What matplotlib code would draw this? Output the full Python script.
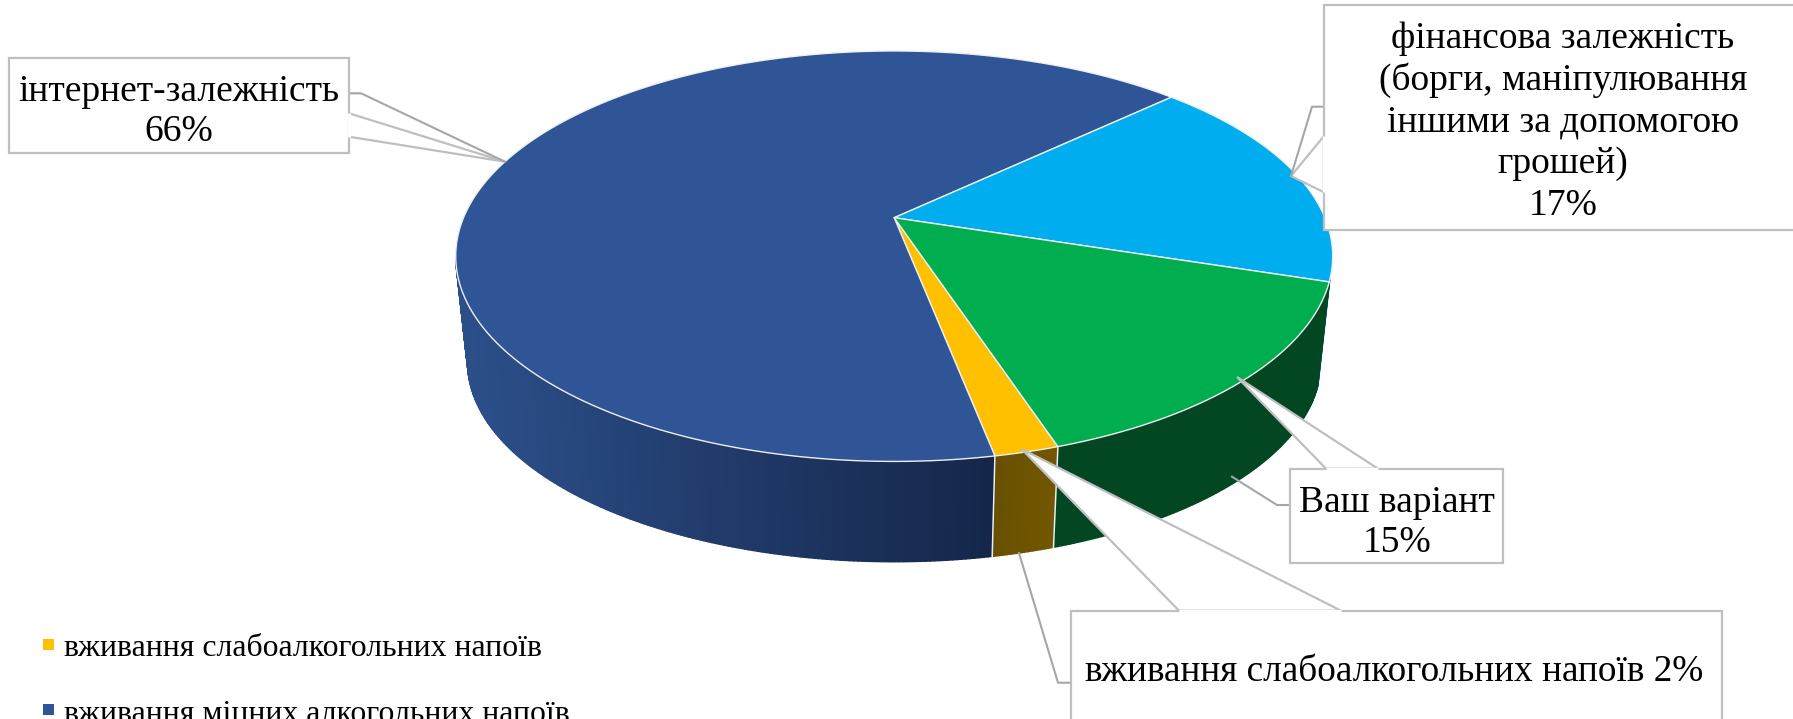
import numpy as np
import matplotlib
matplotlib.use("Agg")
import matplotlib.pyplot as plt
from matplotlib.patches import Polygon, Rectangle
from matplotlib.colors import to_rgb

categories = ["вживання слабоалкогольних напоїв", "інтернет-залежність",
              "фінансова залежність", "Ваш варіант"]
legend_names = ["вживання слабоалкогольних напоїв", "вживання міцних алкогольних напоїв"]
values = [2, 66, 17, 15]
top_colors = ["#FFC000", "#2F5597", "#00AEEF", "#00AE4F"]
side_start = ["#735700", "#2C4F8A", "#026E9A", "#024722"]
side_end = ["#665000", "#15264A", "#026E9A", "#024722"]

W, H = 1793, 719
plt.rcParams["font.family"] = ["Liberation Serif", "DejaVu Serif"]
fig = plt.figure(figsize=(W / 100, H / 100), dpi=100)
ax = fig.add_axes([0, 0, 1, 1])
ax.set_xlim(0, W)
ax.set_ylim(H, 0)
ax.axis("off")

# Perspective projection of the unit disc onto the slanted pie
CX, TOP_Y, RX, RY, K = 894.2, 217.7, 430.7, 198.0, 0.1876
BASE_Y, BASE_SCALE = 324.6, 0.973
START = 161.8
GRID = "#BFBFBF"
LEAD = "#A6A6A6"
RIM = "#EDEFF3"


def project(deg, base=False):
    t = np.radians(deg)
    x, y = np.sin(t), np.cos(t)
    s = BASE_SCALE if base else 1.0
    cy = BASE_Y if base else TOP_Y
    return CX + s * RX * x / (1 + K * y), cy - s * RY * y / (1 + K * y)


# Turn the shares into wedge boundaries, clockwise from the start angle
shares = np.array(values, dtype=float) / sum(values) * 360
bounds = START + np.concatenate([[0], np.cumsum(shares)])

# Outer wall, with shading along the rim
for i in range(len(values)):
    a0, a1 = bounds[i], bounds[i + 1]
    steps = np.arange(a0, a1, 0.5).tolist() + [a1]
    c0, c1 = np.array(to_rgb(side_start[i])), np.array(to_rgb(side_end[i]))
    for p, q in zip(steps[:-1], steps[1:]):
        wrapped = ((p + q) / 2) % 360
        if not 107 <= wrapped <= 259:
            continue
        xa, ya = project(p)
        xb, yb = project(q)
        xc, yc = project(q, True)
        xd, yd = project(p, True)
        mid = (xa + xb) / 2
        frac = np.clip((mid - 460) / 530, 0, 1) if i == 1 else (p - a0) / max(a1 - a0, 1)
        col = c0 + (c1 - c0) * frac
        ax.add_patch(Polygon([(xa, ya), (xb, yb), (xc, yc), (xd, yd)], closed=True,
                             facecolor=col, edgecolor=col, lw=1.0, zorder=2))

# Vertical seams between slices on the wall
for b in bounds[:2]:
    xa, ya = project(b)
    xb, yb = project(b, True)
    ax.plot([xa, xb], [ya, yb], color=RIM, lw=1.1, zorder=3)

# Upper face
for i in range(len(values)):
    angs = np.linspace(bounds[i], bounds[i + 1], 200)
    xs, ys = project(angs)
    pts = [(CX, TOP_Y)] + list(zip(xs, ys))
    ax.add_patch(Polygon(pts, closed=True, facecolor=top_colors[i],
                         edgecolor=RIM, lw=1.0, joinstyle="round", zorder=4))


def callout(box, text_xy, text, leader, wedge, fontsize=27, linespacing=1.22):
    x0, y0, x1, y1 = box
    ax.add_patch(Polygon(wedge, closed=True, facecolor="white", edgecolor=GRID,
                         lw=1.6, zorder=5))
    ax.plot(*zip(*leader), color=LEAD, lw=1.5, zorder=5)
    ax.add_patch(Rectangle((x0, y0), x1 - x0, y1 - y0, facecolor="white",
                           edgecolor=GRID, lw=1.6, zorder=6))
    # The pointer opens into the box, so its mouth carries no border
    ax.plot([wedge[0][0], wedge[2][0]], [wedge[0][1], wedge[2][1]], color="white",
            lw=2.4, solid_capstyle="butt", zorder=6.5)
    ax.text(text_xy[0], text_xy[1], text, ha="center", va="center", fontsize=fontsize,
            linespacing=linespacing, color="black", zorder=7)


callout((9, 57.7, 349, 152.7), (178.5, 111.5), f"{categories[1]}\n{values[1]}%",
        [(349, 93.3), (361, 93.3), (505, 161.7)],
        [(349, 113.3), (505, 161.7), (349, 136.7)])
callout((1324, 5, 1802, 230), (1563, 122),
        f"{categories[2]}\n(борги, маніпулювання\nіншими за допомогою\nгрошей)\n{values[2]}%",
        [(1324, 106.7), (1312, 106.7), (1291, 176)],
        [(1324, 136), (1291, 176), (1324, 192.3)], linespacing=1.26)
callout((1290, 468.7, 1503, 563.3), (1397, 523), f"{categories[3]}\n{values[3]}%",
        [(1290, 505), (1277, 505), (1232, 476.7)],
        [(1326, 468.7), (1237, 377), (1378, 468.7)])
callout((1070.5, 610.7, 1722, 760), (1394.5, 672), f"{categories[0]} {values[0]}%",
        [(1070.5, 682.7), (1058, 682.7), (1019, 553)],
        [(1179, 610.7), (1021.6, 449), (1341, 610.7)], fontsize=26.8)

# Legend, whose last row runs off the lower edge
for name, color, y in zip(legend_names, top_colors[:2], [644, 709]):
    ax.add_patch(Rectangle((43, y - 5), 10.5, 10.5, facecolor=color, edgecolor="none", zorder=8))
    ax.text(64, y + 5, name, ha="left", va="center", fontsize=22.9, color="black", zorder=8)

fig.savefig("out.png", dpi=100, facecolor="white")
